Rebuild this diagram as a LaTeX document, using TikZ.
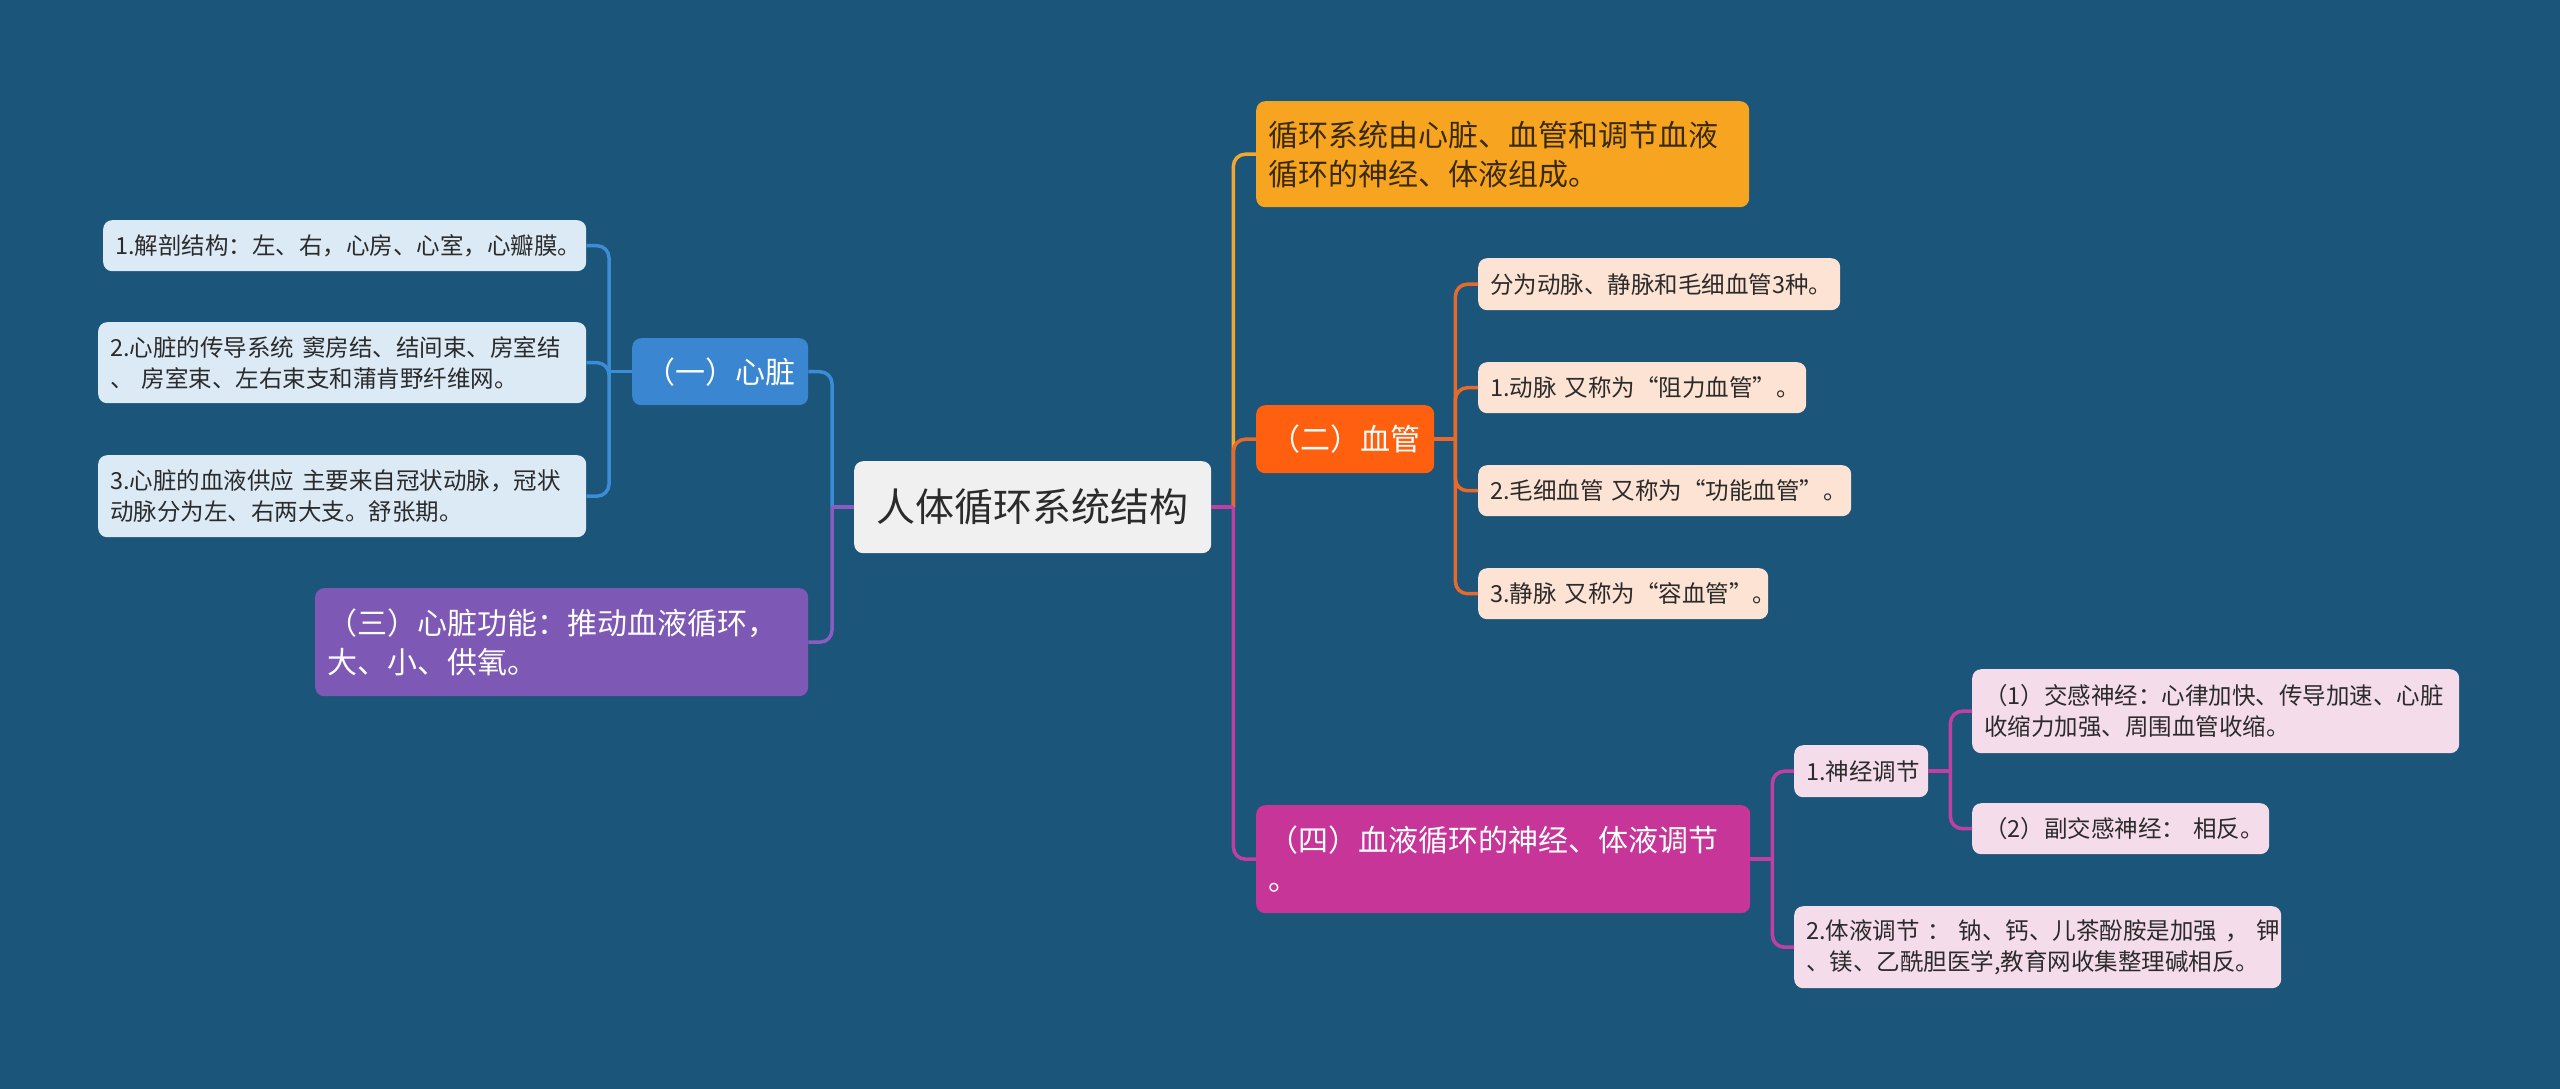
\documentclass[tikz,border=0pt]{standalone}
\usepackage{fontspec}
\setmainfont{Noto Sans CJK SC}
\newcommand{\oneline}[1]{\mbox{#1}}
\definecolor{bg}{HTML}{1B5579}
\definecolor{rootfill}{HTML}{F0F0F0}
\definecolor{darktext}{HTML}{2B2B2B}
\definecolor{heartfill}{HTML}{3A86D0}
\definecolor{heartline}{HTML}{3C8CD6}
\definecolor{leafblue}{HTML}{DCEAF6}
\definecolor{purplefill}{HTML}{7E58B5}
\definecolor{purpleline}{HTML}{8A5CC0}
\definecolor{orangefill}{HTML}{F7A520}
\definecolor{orangeline}{HTML}{F0A830}
\definecolor{vesselfill}{HTML}{FF600F}
\definecolor{vesselline}{HTML}{E8692C}
\definecolor{peach}{HTML}{FDE3D3}
\definecolor{magfill}{HTML}{C73598}
\definecolor{magline}{HTML}{C03FA2}
\definecolor{pink}{HTML}{F5DCEB}
\definecolor{orangetext}{HTML}{3A2A08}
\tikzset{
  box/.style={rounded corners=9pt, anchor=north west, inner xsep=12pt, inner ysep=0pt, align=left},
  leaf/.style={box, font=\fontsize{23.5}{31}\selectfont, text=darktext},
  mid/.style={box, font=\fontsize{30}{39}\selectfont},
  link/.style={line width=3.5pt, rounded corners=12pt},
}
\begin{document}
\begin{tikzpicture}[x=1pt,y=-1pt]
\fill[bg] (0,0) rectangle (2560,1089);
\useasboundingbox (0,0) rectangle (2560,1089);

% root
\node[box, fill=rootfill, text=darktext, font=\fontsize{39}{44}\selectfont, align=center,
      text width=333pt, minimum height=92pt] (root) at (854,461) {人体循环系统结构};

% left side
\node[mid, fill=heartfill, text=white, align=center, text width=152pt, minimum height=67pt] (heart) at (632,338) {（一）心脏};
\node[leaf, fill=leafblue, text width=459pt, minimum height=51pt] (l1) at (103,220) {\oneline{1.解剖结构：左、右，心房、心室，心瓣膜。}};
\node[leaf, fill=leafblue, text width=464pt, minimum height=81pt] (l2) at (98,322) {\oneline{2.心脏的传导系统 窦房结、结间束、房室结}\\\oneline{、 房室束、左右束支和蒲肯野纤维网。}};
\node[leaf, fill=leafblue, text width=464pt, minimum height=82pt] (l3) at (98,455) {\oneline{3.心脏的血液供应 主要来自冠状动脉，冠状}\\\oneline{动脉分为左、右两大支。舒张期。}};
\node[mid, fill=purplefill, text=white, text width=469pt, minimum height=108pt] (three) at (315,588) {\oneline{（三）心脏功能：推动血液循环，}\\\oneline{大、小、供氧。}};

% right side
\node[mid, fill=orangefill, text=orangetext, text width=469pt, minimum height=106pt] (intro) at (1256,101) {\oneline{循环系统由心脏、血管和调节血液}\\\oneline{循环的神经、体液组成。}};
\node[mid, fill=vesselfill, text=white, align=center, text width=154pt, minimum height=68pt] (vessel) at (1256,405) {（二）血管};
\node[leaf, fill=peach, text width=338pt, minimum height=52pt] (v0) at (1478,258) {\oneline{分为动脉、静脉和毛细血管3种。}};
\node[leaf, fill=peach, text width=304pt, minimum height=51pt] (v1) at (1478,362) {\oneline{1.动脉 又称为“阻力血管”。}};
\node[leaf, fill=peach, text width=349pt, minimum height=51pt] (v2) at (1478,465) {\oneline{2.毛细血管 又称为“功能血管”。}};
\node[leaf, fill=peach, text width=266pt, minimum height=51pt] (v3) at (1478,568) {\oneline{3.静脉 又称为“容血管”。}};

\node[mid, fill=magfill, text=white, text width=470pt, minimum height=108pt] (four) at (1256,805) {\oneline{（四）血液循环的神经、体液调节}\\\oneline{。}};
\node[leaf, fill=pink, text width=110pt, minimum height=52pt] (nerve) at (1794,745) {\oneline{1.神经调节}};
\node[leaf, fill=pink, text width=463pt, minimum height=84pt] (n1) at (1972,669) {\oneline{（1）交感神经：心律加快、传导加速、心脏}\\\oneline{收缩力加强、周围血管收缩。}};
\node[leaf, fill=pink, text width=273pt, minimum height=51pt] (n2) at (1972,803) {\oneline{（2）副交感神经： 相反。}};
\node[leaf, fill=pink, text width=463pt, minimum height=82pt] (humor) at (1794,906) {\oneline{2.体液调节 ： 钠、钙、儿茶酚胺是加强 ， 钾}\\\oneline{、镁、乙酰胆医学,教育网收集整理碱相反。}};

% connectors: stub from parent, then branch with one rounded corner
\draw[link, heartline] (root.west) ++(-22,0) |- (heart.east);
\draw[link, purpleline] (root.west) ++(-22,0) |- (three.east);
\draw[link, purpleline] (root.west) -- ++(-22,0);

\draw[link, heartline] (heart.west) ++(-23,0) |- (l1.east);
\draw[link, heartline] (heart.west) ++(-23,0) |- (l2.east);
\draw[link, heartline] (heart.west) ++(-23,0) |- (l3.east);
\draw[link, heartline] (heart.west) -- ++(-23,0);

\draw[link, orangeline] (root.east) ++(22,0) |- (intro.west);
\draw[link, vesselline] (root.east) ++(22,0) |- (vessel.west);
\draw[link, magline] (root.east) ++(22,0) |- (four.west);
\draw[link, magline] (root.east) -- ++(22,0);

\draw[link, vesselline] (vessel.east) ++(21,0) |- (v0.west);
\draw[link, vesselline] (vessel.east) ++(21,0) |- (v1.west);
\draw[link, vesselline] (vessel.east) ++(21,0) |- (v2.west);
\draw[link, vesselline] (vessel.east) ++(21,0) |- (v3.west);
\draw[link, vesselline] (vessel.east) -- ++(21,0);

\draw[link, magline] (four.east) ++(22,0) |- (nerve.west);
\draw[link, magline] (four.east) ++(22,0) |- (humor.west);
\draw[link, magline] (four.east) -- ++(22,0);
\draw[link, magline] (nerve.east) ++(22,0) |- (n1.west);
\draw[link, magline] (nerve.east) ++(22,0) |- (n2.west);
\draw[link, magline] (nerve.east) -- ++(22,0);
\end{tikzpicture}
\end{document}
